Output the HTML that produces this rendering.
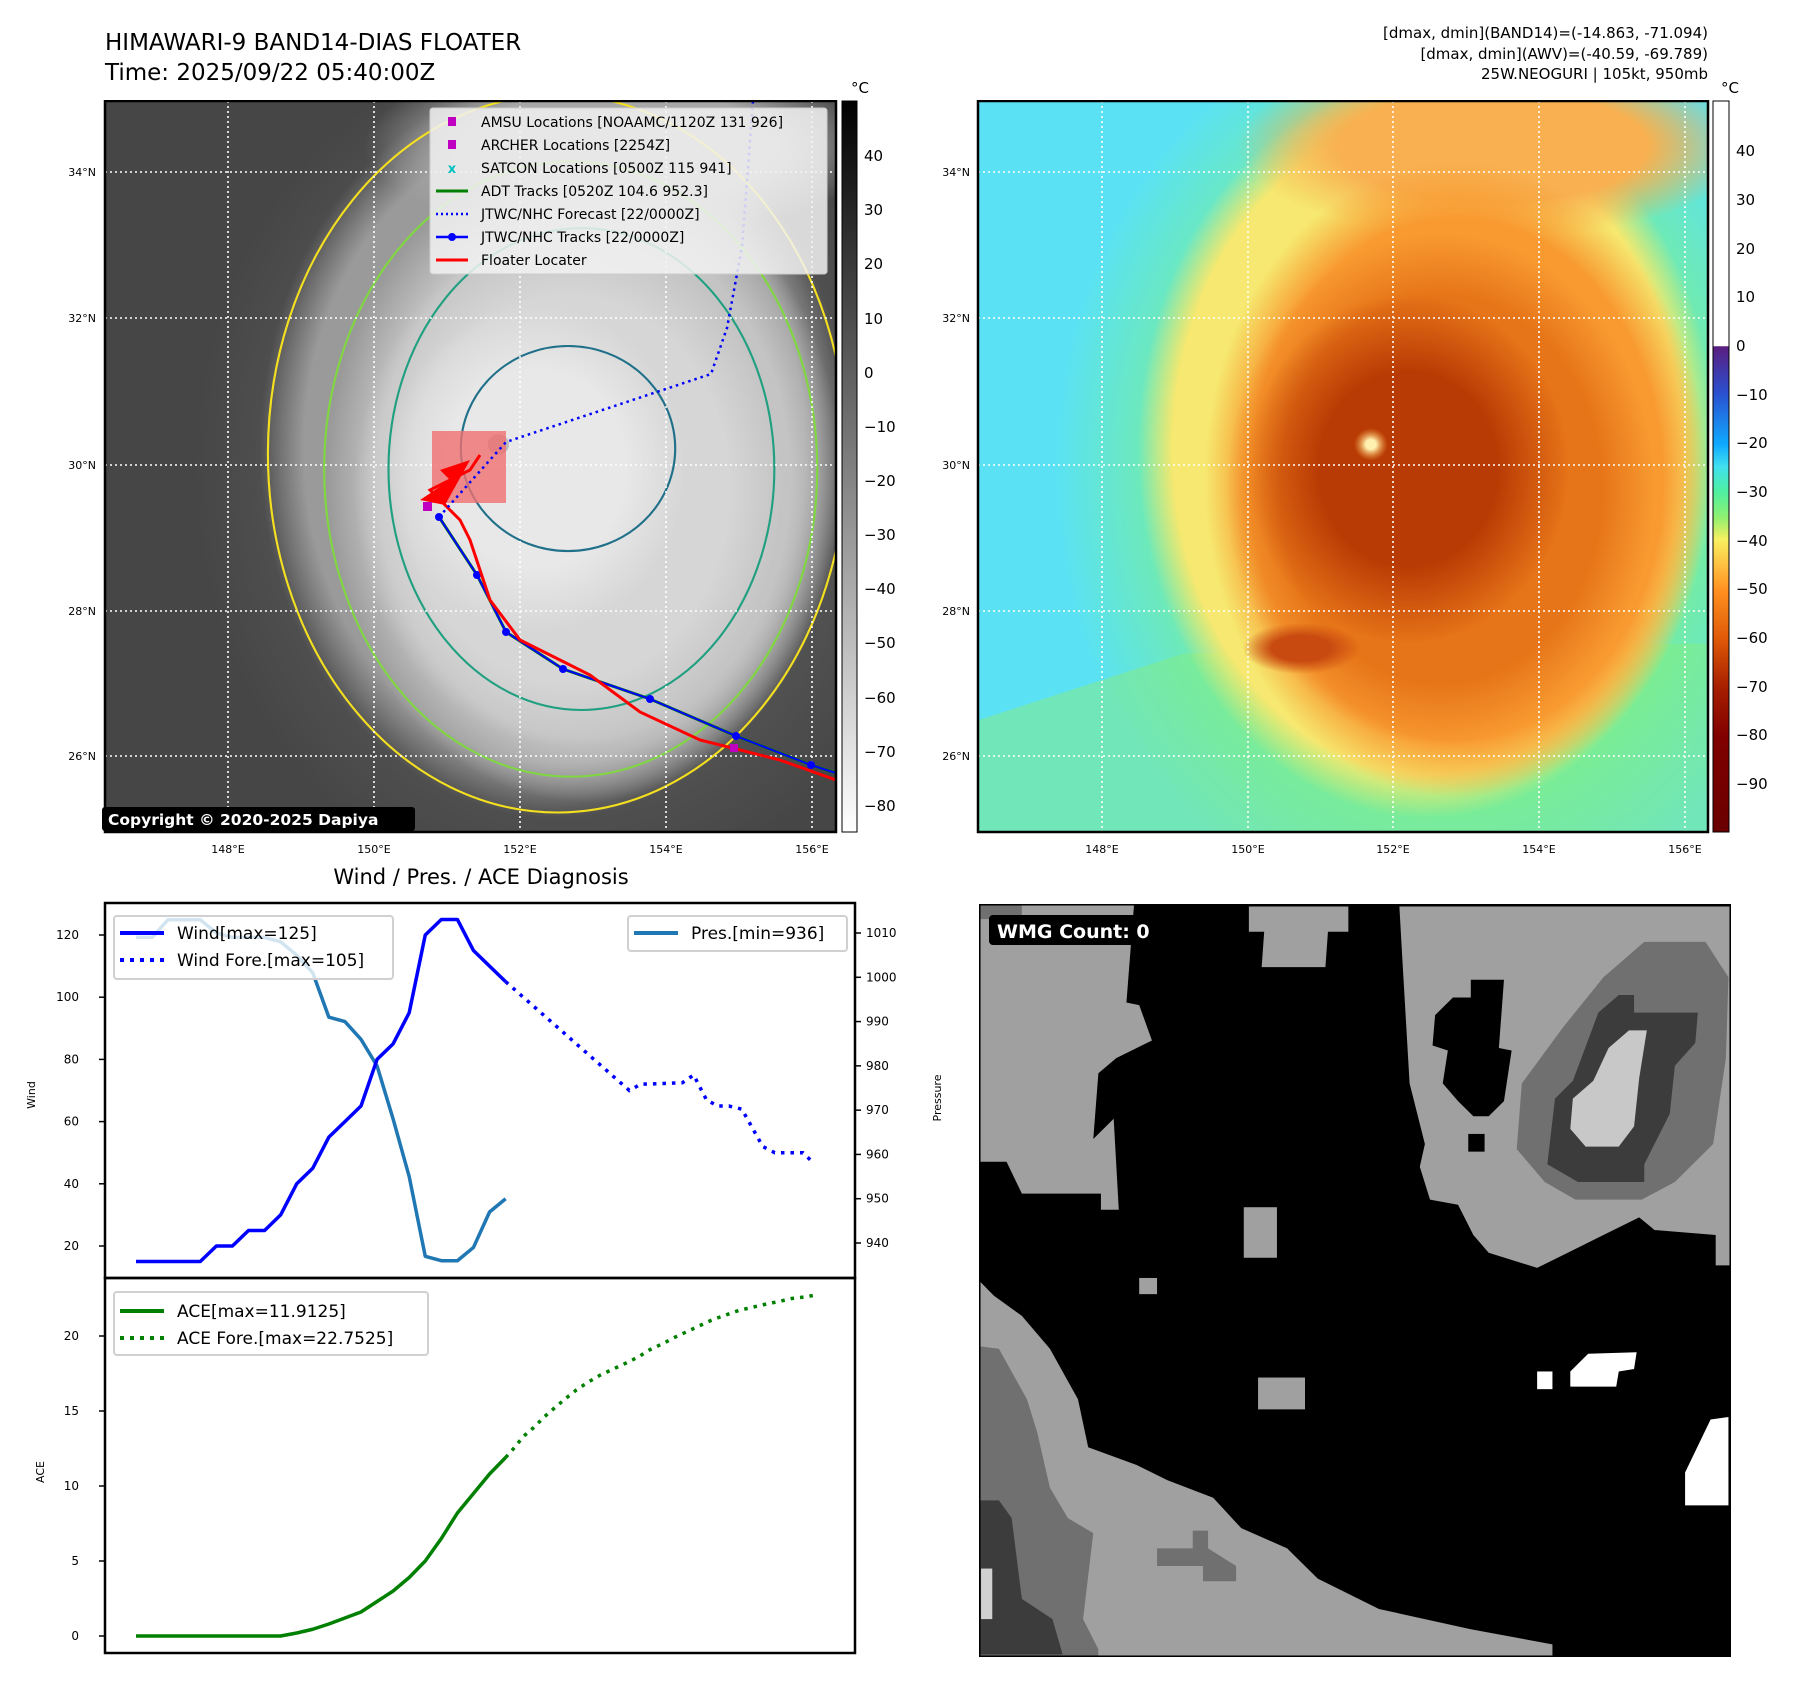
<!DOCTYPE html>
<html><head><meta charset="utf-8"><style>
html,body{margin:0;padding:0;background:#fff}
body{position:relative;width:1797px;height:1690px;overflow:hidden}
svg{display:block;position:absolute}
text{font-family:"DejaVu Sans","Liberation Sans",sans-serif}
</style></head><body>

<svg style="left:0px;top:0px" width="1797" height="100" viewBox="0 0 1797 100">
<text x="105" y="50" font-size="23">HIMAWARI-9 BAND14-DIAS FLOATER</text>
<text x="105" y="80" font-size="23">Time: 2025/09/22 05:40:00Z</text>
<g font-size="15" text-anchor="end">
<text x="1708" y="38">[dmax, dmin](BAND14)=(-14.863, -71.094)</text>
<text x="1708" y="59">[dmax, dmin](AWV)=(-40.59, -69.789)</text>
<text x="1708" y="79">25W.NEOGURI | 105kt, 950mb</text>
</g>
<text x="860" y="93" font-size="15" text-anchor="middle">°C</text>
<text x="1730" y="93" font-size="15" text-anchor="middle">°C</text>
</svg>

<!-- MAP 1 -->
<svg style="left:0px;top:100px" width="900" height="770" viewBox="0 100 900 770">
<defs>
<clipPath id="clip1"><rect x="105" y="101" width="731" height="731"/></clipPath>
<radialGradient id="g1z"><stop offset="0.5" stop-color="#5c5c5c"/><stop offset="1" stop-color="#5c5c5c" stop-opacity="0"/></radialGradient>
<radialGradient id="g1a"><stop offset="0.85" stop-color="#9a9a9a"/><stop offset="1" stop-color="#9a9a9a" stop-opacity="0"/></radialGradient>
<radialGradient id="g1b"><stop offset="0.6" stop-color="#a8a8a8"/><stop offset="1" stop-color="#a8a8a8" stop-opacity="0"/></radialGradient>
<radialGradient id="g1c"><stop offset="0.8" stop-color="#c4c4c4"/><stop offset="1" stop-color="#c4c4c4" stop-opacity="0"/></radialGradient>
<radialGradient id="g1d"><stop offset="0.75" stop-color="#d6d6d6"/><stop offset="1" stop-color="#d6d6d6" stop-opacity="0"/></radialGradient>
<radialGradient id="g1e"><stop offset="0.6" stop-color="#e8e8e8"/><stop offset="1" stop-color="#e8e8e8" stop-opacity="0"/></radialGradient>
<linearGradient id="cb1" x1="0" y1="0" x2="0" y2="1"><stop offset="0" stop-color="#000"/><stop offset="1" stop-color="#fff"/></linearGradient>
</defs>
<g clip-path="url(#clip1)">
<rect x="105" y="101" width="731" height="731" fill="#464646"/>
<g transform="translate(105,101) scale(0.5359,0.5126) translate(-36,-42)">
  <ellipse cx="900" cy="760" rx="700" ry="850" fill="url(#g1z)"/>
  <ellipse cx="875" cy="720" rx="550" ry="720" fill="url(#g1a)"/>
  <ellipse cx="1000" cy="130" rx="480" ry="180" fill="url(#g1b)"/>
  <ellipse cx="930" cy="780" rx="480" ry="630" fill="url(#g1c)"/>
  <ellipse cx="900" cy="800" rx="400" ry="500" fill="url(#g1d)"/>
  <ellipse cx="840" cy="760" rx="280" ry="320" fill="url(#g1e)"/>
  <circle cx="770" cy="712" r="20" fill="#bbb"/>
 <g fill="none" stroke-width="4">
  <ellipse cx="880" cy="730" rx="540" ry="700" stroke="#f5e020"/>
  <ellipse cx="905" cy="760" rx="460" ry="600" stroke="#80d840"/>
  <ellipse cx="925" cy="760" rx="360" ry="470" stroke="#20a080"/>
  <ellipse cx="900" cy="720" rx="200" ry="200" stroke="#20708a"/>
 </g>
</g>
<g stroke="#fff" stroke-width="1.6" stroke-dasharray="2 3">
<line x1="228" y1="101" x2="228" y2="832"/><line x1="374" y1="101" x2="374" y2="832"/><line x1="520" y1="101" x2="520" y2="832"/><line x1="666" y1="101" x2="666" y2="832"/><line x1="812" y1="101" x2="812" y2="832"/>
<line x1="105" y1="172" x2="836" y2="172"/><line x1="105" y1="318" x2="836" y2="318"/><line x1="105" y1="465" x2="836" y2="465"/><line x1="105" y1="611" x2="836" y2="611"/><line x1="105" y1="756" x2="836" y2="756"/>
</g>
<g>
 <rect x="432" y="431" width="74" height="72" fill="#f07070" opacity="0.8"/>
 <polyline points="836,773 811,765 736,736 650,699 563,669 506,632 477,575 439,517" fill="none" stroke="#008000" stroke-width="3"/>
 <polyline points="836,773 811,765 736,736 650,699 563,669 506,632 477,575 439,517" fill="none" stroke="#0000ff" stroke-width="2"/>
 <g fill="#0000ff"><circle cx="811" cy="765" r="4"/><circle cx="736" cy="736" r="4"/><circle cx="650" cy="699" r="4"/><circle cx="563" cy="669" r="4"/><circle cx="506" cy="632" r="4"/><circle cx="477" cy="575" r="4"/><circle cx="439" cy="517" r="4"/></g>
 <polyline points="836,780 780,760 700,740 640,712 590,675 560,660 520,640 490,600 470,540 460,520 440,500 430,490 470,470 480,455" fill="none" stroke="#ff0000" stroke-width="3"/>
 <path d="M420,500 L450,480 L440,470 L470,460 L445,505 Z" fill="#ff0000"/>
 <polyline points="439,517 506,442 711,374 727,328 742,247 753,101" fill="none" stroke="#0000ff" stroke-width="2.5" stroke-dasharray="2.5 4"/>
 <rect x="423" y="502" width="9" height="9" fill="#c000c0"/><rect x="730" y="744" width="8" height="8" fill="#c000c0"/>
</g>
</g>
<rect x="105" y="101" width="731" height="731" fill="none" stroke="#000" stroke-width="2.5"/>
<g>
 <rect x="430" y="108" width="397" height="166" rx="3" fill="#f2f2f2" fill-opacity="0.85" stroke="#ccc"/>
 <g font-size="14">
  <rect x="448" y="117" width="8" height="9" fill="#c000c0"/><text x="481" y="127">AMSU Locations [NOAAMC/1120Z 131 926]</text>
  <rect x="448" y="140" width="8" height="9" fill="#c000c0"/><text x="481" y="150">ARCHER Locations [2254Z]</text>
  <text x="452" y="173" fill="#00c0c0" font-size="13" text-anchor="middle" font-weight="bold">x</text><text x="481" y="173">SATCON Locations [0500Z 115 941]</text>
  <line x1="436" y1="191" x2="468" y2="191" stroke="#008000" stroke-width="3"/><text x="481" y="196">ADT Tracks [0520Z 104.6 952.3]</text>
  <line x1="436" y1="214" x2="468" y2="214" stroke="#0000ff" stroke-width="2.5" stroke-dasharray="2 3"/><text x="481" y="219">JTWC/NHC Forecast [22/0000Z]</text>
  <line x1="436" y1="237" x2="468" y2="237" stroke="#0000ff" stroke-width="2.5"/><circle cx="452" cy="237" r="4" fill="#0000ff"/><text x="481" y="242">JTWC/NHC Tracks [22/0000Z]</text>
  <line x1="436" y1="260" x2="468" y2="260" stroke="#ff0000" stroke-width="3"/><text x="481" y="265">Floater Locater</text>
 </g>
</g>
<g>
 <rect x="102" y="807" width="313" height="24" rx="3" fill="#000"/>
 <text x="108" y="825" font-size="15.5" font-weight="bold" fill="#fff">Copyright © 2020-2025 Dapiya</text>
</g>
<g font-size="11" text-anchor="end">
 <text x="96" y="176">34°N</text><text x="96" y="322">32°N</text><text x="96" y="469">30°N</text><text x="96" y="615">28°N</text><text x="96" y="760">26°N</text>
</g>
<g font-size="11" text-anchor="middle">
 <text x="228" y="853">148°E</text><text x="374" y="853">150°E</text><text x="520" y="853">152°E</text><text x="666" y="853">154°E</text><text x="812" y="853">156°E</text>
</g>
<g>
 <rect x="842" y="101" width="15" height="731" fill="url(#cb1)" stroke="#000" stroke-width="1"/>
 <g font-size="15">
  <text x="864" y="161">40</text><text x="864" y="215">30</text><text x="864" y="269">20</text><text x="864" y="324">10</text><text x="864" y="378">0</text>
  <text x="864" y="432">−10</text><text x="864" y="486">−20</text><text x="864" y="540">−30</text><text x="864" y="594">−40</text><text x="864" y="648">−50</text>
  <text x="864" y="703">−60</text><text x="864" y="757">−70</text><text x="864" y="811">−80</text>
 </g>
</g>
</svg>

<!-- MAP 2 -->
<svg style="left:900px;top:100px" width="897" height="770" viewBox="904 100 897 770">
<defs>
<clipPath id="clip2"><rect x="982" y="101" width="730" height="731"/></clipPath>
<radialGradient id="g2z"><stop offset="0.55" stop-color="#80f080"/><stop offset="1" stop-color="#80f080" stop-opacity="0"/></radialGradient>
<radialGradient id="g2a"><stop offset="0.88" stop-color="#f6e870"/><stop offset="1" stop-color="#f6e870" stop-opacity="0"/></radialGradient>
<radialGradient id="g2b"><stop offset="0.6" stop-color="#f8b050"/><stop offset="1" stop-color="#f8b050" stop-opacity="0"/></radialGradient>
<radialGradient id="g2c"><stop offset="0.82" stop-color="#f89a30"/><stop offset="1" stop-color="#f89a30" stop-opacity="0"/></radialGradient>
<radialGradient id="g2d"><stop offset="0.75" stop-color="#e67418"/><stop offset="1" stop-color="#e67418" stop-opacity="0"/></radialGradient>
<radialGradient id="g2e"><stop offset="0.55" stop-color="#b83a04"/><stop offset="1" stop-color="#b83a04" stop-opacity="0"/></radialGradient>
<radialGradient id="g2f"><stop offset="0.3" stop-color="#fff0b0"/><stop offset="1" stop-color="#f0a040" stop-opacity="0"/></radialGradient>
<radialGradient id="g2g"><stop offset="0.5" stop-color="#c84a10"/><stop offset="1" stop-color="#c84a10" stop-opacity="0"/></radialGradient>
<linearGradient id="cb2" x1="0" y1="0" x2="0" y2="1">
<stop offset="0" stop-color="#fff"/><stop offset="0.335" stop-color="#fff"/>
<stop offset="0.336" stop-color="#5a1e80"/><stop offset="0.40" stop-color="#2a50d0"/>
<stop offset="0.47" stop-color="#10aaff"/><stop offset="0.50" stop-color="#40e0f0"/>
<stop offset="0.535" stop-color="#50f0a0"/><stop offset="0.57" stop-color="#90f070"/>
<stop offset="0.60" stop-color="#f8f060"/><stop offset="0.635" stop-color="#ffc040"/>
<stop offset="0.67" stop-color="#ff9020"/><stop offset="0.735" stop-color="#e05a08"/>
<stop offset="0.80" stop-color="#a82000"/><stop offset="0.87" stop-color="#800000"/>
<stop offset="1" stop-color="#6a0000"/></linearGradient>
</defs>
<g clip-path="url(#clip2)">
<rect x="982" y="101" width="730" height="731" fill="#5ae2f4"/>
<g transform="translate(982,101) scale(0.5352,0.5126) translate(-36,-42)">
  <path d="M36,1250 L420,1120 L1400,1100 L1400,1468 L36,1468 Z" fill="#7ae8a0" opacity="0.7"/>
  <ellipse cx="900" cy="760" rx="720" ry="900" fill="url(#g2z)"/>
  <ellipse cx="875" cy="720" rx="540" ry="720" fill="url(#g2a)"/>
  <ellipse cx="1000" cy="130" rx="480" ry="180" fill="url(#g2b)"/>
  <ellipse cx="930" cy="780" rx="470" ry="620" fill="url(#g2c)"/>
  <ellipse cx="900" cy="800" rx="400" ry="500" fill="url(#g2d)"/>
  <ellipse cx="840" cy="760" rx="300" ry="340" fill="url(#g2e)"/>
  <ellipse cx="640" cy="1110" rx="110" ry="50" fill="url(#g2g)"/>
  <circle cx="770" cy="712" r="32" fill="url(#g2f)"/>
</g>
</g>
<g stroke="#fff" stroke-width="1.6" stroke-dasharray="2 3">
<line x1="1106" y1="101" x2="1106" y2="832"/><line x1="1252" y1="101" x2="1252" y2="832"/><line x1="1397" y1="101" x2="1397" y2="832"/><line x1="1543" y1="101" x2="1543" y2="832"/><line x1="1689" y1="101" x2="1689" y2="832"/>
<line x1="982" y1="172" x2="1712" y2="172"/><line x1="982" y1="318" x2="1712" y2="318"/><line x1="982" y1="465" x2="1712" y2="465"/><line x1="982" y1="611" x2="1712" y2="611"/><line x1="982" y1="756" x2="1712" y2="756"/>
</g>
<rect x="982" y="101" width="730" height="731" fill="none" stroke="#000" stroke-width="2.5"/>
<g font-size="11" text-anchor="end">
 <text x="974" y="176">34°N</text><text x="974" y="322">32°N</text><text x="974" y="469">30°N</text><text x="974" y="615">28°N</text><text x="974" y="760">26°N</text>
</g>
<g font-size="11" text-anchor="middle">
 <text x="1106" y="853">148°E</text><text x="1252" y="853">150°E</text><text x="1397" y="853">152°E</text><text x="1543" y="853">154°E</text><text x="1689" y="853">156°E</text>
</g>
<g>
 <rect x="1717" y="101" width="16" height="731" fill="url(#cb2)" stroke="#000" stroke-width="1"/>
 <g font-size="15">
  <text x="1740" y="156">40</text><text x="1740" y="205">30</text><text x="1740" y="254">20</text><text x="1740" y="302">10</text><text x="1740" y="351">0</text>
  <text x="1740" y="400">−10</text><text x="1740" y="448">−20</text><text x="1740" y="497">−30</text><text x="1740" y="546">−40</text><text x="1740" y="594">−50</text>
  <text x="1740" y="643">−60</text><text x="1740" y="692">−70</text><text x="1740" y="740">−80</text><text x="1740" y="789">−90</text>
 </g>
</g>
</svg>

<!-- WMG panel -->
<svg style="left:979px;top:904px" width="752" height="753" viewBox="36 25 1474 1490" preserveAspectRatio="none">
 <rect x="36" y="25" width="1474" height="1490" fill="#000"/>
 <g fill="#a0a0a0">
  <path d="M36,25 L340,25 L325,220 L350,225 L375,295 L305,330 L270,360 L260,490 L300,450 L310,630 L275,630 L275,598 L120,598 L90,535 L36,535 Z"/>
  <path d="M565,30 L760,30 L760,80 L720,80 L715,150 L590,150 L595,80 L565,80 Z"/>
  <path d="M860,30 L1510,30 L1510,740 L1480,740 L1480,680 L1360,670 L1330,645 L1260,680 L1190,715 L1130,745 L1035,715 L1005,680 L975,620 L920,610 L900,545 L910,500 L880,380 L865,120 Z"/>
  <path d="M36,770 L65,800 L120,840 L175,905 L230,1005 L250,1100 L345,1135 L405,1165 L495,1200 L550,1260 L640,1300 L700,1360 L820,1420 L1000,1460 L1160,1490 L1160,1515 L36,1515 Z"/>
  <rect x="555" y="625" width="65" height="100"/><rect x="350" y="765" width="35" height="32"/><rect x="583" y="962" width="92" height="63"/>
 </g>
 <path d="M36,25 L120,25 L120,55 L36,55 Z" fill="#707070"/>
 <path d="M36,900 L75,905 L130,1005 L150,1070 L175,1180 L210,1240 L260,1270 L240,1440 L270,1500 L270,1515 L36,1515 Z" fill="#707070"/>
 <path d="M385,1300 L455,1300 L455,1265 L485,1265 L485,1300 L540,1335 L540,1365 L475,1365 L475,1335 L385,1335 Z" fill="#707070"/>
 <path d="M36,1205 L75,1205 L100,1240 L120,1400 L180,1440 L200,1510 L36,1510 Z" fill="#3c3c3c"/>
 <rect x="40" y="1340" width="22" height="100" fill="#d0d0d0"/>
 <path d="M1000,175 L1065,175 L1055,310 L1080,315 L1065,415 L1035,445 L1005,445 L975,415 L945,380 L955,315 L925,305 L930,245 L965,210 L1000,210 Z" fill="#000"/>
 <rect x="995" y="480" width="32" height="35" fill="#000"/>
 <path d="M1090,510 L1100,380 L1180,270 L1260,170 L1340,100 L1460,100 L1505,170 L1500,330 L1475,500 L1400,575 L1335,610 L1205,610 L1145,575 Z" fill="#707070"/>
 <path d="M1150,540 L1165,410 L1200,375 L1250,240 L1290,205 L1320,205 L1320,240 L1445,240 L1440,300 L1400,345 L1390,440 L1340,540 L1340,575 L1210,575 Z" fill="#3c3c3c"/>
 <path d="M1195,470 L1200,410 L1240,375 L1270,310 L1310,275 L1345,275 L1330,370 L1320,465 L1290,505 L1225,505 Z" fill="#c8c8c8"/>
 <g fill="#fff">
  <rect x="1130" y="950" width="30" height="35"/>
  <path d="M1195,950 L1230,915 L1325,912 L1320,945 L1290,950 L1285,980 L1195,980 Z"/>
  <path d="M1420,1150 L1470,1045 L1505,1040 L1505,1215 L1420,1215 Z"/>
 </g>
 <rect x="36" y="25" width="1474" height="1490" fill="none" stroke="#000" stroke-width="6"/>
</svg>
<svg style="left:979px;top:904px" width="753" height="60" viewBox="982 906 753 60">
<rect x="992" y="917" width="178" height="30" rx="4" fill="#000"/>
<text x="1000" y="940" font-size="19" font-weight="bold" fill="#fff">WMG Count: 0</text>
</svg>

<!-- Diagnosis charts -->
<svg id="diagsvg" style="left:0px;top:860px" width="960" height="830" viewBox="0 860 960 830">
<text x="481" y="884" font-size="21" text-anchor="middle">Wind / Pres. / ACE Diagnosis</text>
<g id="diag"></g>
</svg>
<script>
// ---- data ----
const windObs = [15,15,15,15,15,20,20,25,25,30,40,45,55,60,65,80,85,95,120,125,125,115,110,105];
const windForeX = [23,30.7,31.4,34,34.7,35.5,36.2,36.9,37.7,39,39.75,41.5,42.1];
const windForeV = [105,70,72,72.5,75,67,65,65,64,52,50,50,47];
const presObs = [1009,1009,1013,1013,1013,1010,1009,1009,1009,1008,1005,1001,991,990,986,980,968,955,937,936,936,939,947,950];
const aceObs = [0,0,0,0,0,0,0,0,0,0,0.2,0.45,0.8,1.2,1.6,2.3,3.0,3.9,5.0,6.5,8.2,9.5,10.8,11.9];
const aceForeX = [23,23.5,24.1,24.75,25.4,26.04,26.7,27.4,28.1,28.9,29.7,30.5,31.25,32,32.8,33.5,34.3,35.1,35.9,36.7,37.5,38.3,39.1,40,40.8,41.6,42.4];
const aceForeV = [11.9,12.5,13.3,13.9,14.6,15.2,15.8,16.4,16.9,17.4,17.8,18.2,18.6,19.1,19.5,19.9,20.3,20.7,21.1,21.4,21.7,21.9,22.1,22.3,22.5,22.6,22.75];
const windTicks = [20,40,60,80,100,120];
const presTicks = [940,950,960,970,980,990,1000,1010];
const aceTicks = [0,5,10,15,20];

// ---- axes ----
const xS = i => 136 + i*16.07;
const yW = v => 1246 - (v-20)*3.11;
const yP = p => 1243 - (p-940)*4.4286;
const yA = a => 1636 - a*15;

const NS = 'http://www.w3.org/2000/svg';
const g = document.getElementById('diag');
function mk(tag, attrs){ const el=document.createElementNS(NS,tag); for(const k in attrs) el.setAttribute(k,attrs[k]); g.appendChild(el); return el; }
function pts(xs, ys){ return xs.map((x,i)=>x+','+ys[i]).join(' '); }

let e;
e = mk('rect',{x:105,y:903,width:750,height:375,fill:'none',stroke:'#000','stroke-width':2.5});


e = mk('rect',{x:105,y:1278,width:750,height:375,fill:'none',stroke:'#000','stroke-width':2.5});



windTicks.forEach(t=>{
  const y=yW(t);
  e = mk('line',{x1:99,y1:y,x2:105,y2:y,stroke:'#000','stroke-width':1.5});
  
  
  e = mk('text',{x:79,y:y+4,'font-size':12,'text-anchor':'end'}); e.textContent=t;
  
  
});
presTicks.forEach(t=>{
  const y=yP(t);
  e = mk('line',{x1:855,y1:y,x2:861,y2:y,stroke:'#000','stroke-width':1.5});
  
  
  e = mk('text',{x:866,y:y+4,'font-size':12}); e.textContent=t;
  
  
});
aceTicks.forEach(t=>{
  const y=yA(t);
  e = mk('line',{x1:99,y1:y,x2:105,y2:y,stroke:'#000','stroke-width':1.5});
  
  
  e = mk('text',{x:79,y:y+4,'font-size':12,'text-anchor':'end'}); e.textContent=t;
  
  
});
e = mk('text',{x:0,y:0,'font-size':11,'text-anchor':'middle',transform:'translate(35,1095) rotate(-90)'}); e.textContent='Wind';


e = mk('text',{x:0,y:0,'font-size':11,'text-anchor':'middle',transform:'translate(941,1098) rotate(-90)'}); e.textContent='Pressure';


e = mk('text',{x:0,y:0,'font-size':11,'text-anchor':'middle',transform:'translate(44,1472) rotate(-90)'}); e.textContent='ACE';



const obsX = windObs.map((v,i)=>xS(i));
e = mk('polyline',{points:pts(obsX, presObs.map(yP)),fill:'none',stroke:'#1f77b4','stroke-width':3.5,'stroke-linejoin':'round'});


e = mk('polyline',{points:pts(obsX, windObs.map(yW)),fill:'none',stroke:'#0000ff','stroke-width':3.5,'stroke-linejoin':'round'});


e = mk('polyline',{points:pts(windForeX.map(xS), windForeV.map(yW)),fill:'none',stroke:'#0000ff','stroke-width':3.5,'stroke-dasharray':'3.5 6'});


e = mk('polyline',{points:pts(aceObs.map((v,i)=>xS(i)), aceObs.map(yA)),fill:'none',stroke:'#008000','stroke-width':3.5,'stroke-linejoin':'round'});


e = mk('polyline',{points:pts(aceForeX.map(xS), aceForeV.map(yA)),fill:'none',stroke:'#008000','stroke-width':3.5,'stroke-dasharray':'3.5 6'});



function legendBox(x,y,w,h,name){
  e = mk('rect',{x:x,y:y,width:w,height:h,rx:3,fill:'#fff','fill-opacity':0.8,stroke:'#d0d0d0','stroke-width':2});
  
  
}
function legendEntry(x,y,color,dash,label,name){
  const a={x1:x,y1:y,x2:x+44,y2:y,stroke:color,'stroke-width':4}; if(dash) a['stroke-dasharray']='4 6';
  e = mk('line',a);
  
  
  e = mk('text',{x:x+57,y:y+6,'font-size':17}); e.textContent=label;
  
  
}
legendBox(114,916,279,63,'wind-legend');
legendEntry(120,933,'#0000ff',false,'Wind[max=125]','legend-wind');
legendEntry(120,960,'#0000ff',true,'Wind Fore.[max=105]','legend-wind-forecast');
legendBox(628,916,219,35,'pressure-legend');
legendEntry(634,933,'#1f77b4',false,'Pres.[min=936]','legend-pressure');
legendBox(114,1292,314,63,'ace-legend');
legendEntry(120,1311,'#008000',false,'ACE[max=11.9125]','legend-ace');
legendEntry(120,1338,'#008000',true,'ACE Fore.[max=22.7525]','legend-ace-forecast');
</script>
</body></html>
